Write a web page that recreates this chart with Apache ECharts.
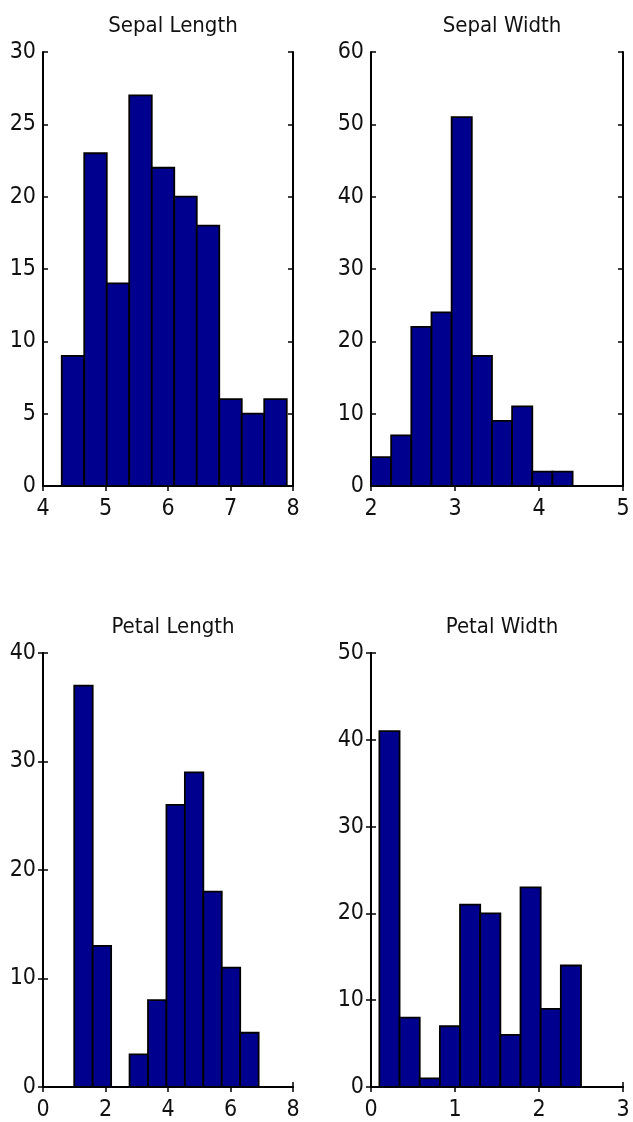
<!DOCTYPE html>
<html>
<head>
<meta charset="utf-8">
<script src="https://cdn.jsdelivr.net/npm/echarts@6/dist/echarts.min.js"></script>
<style>
  html, body { margin: 0; padding: 0; background: #fff; }
  #main { width: 633px; height: 1122px; }
</style>
</head>
<body>
<div id="main"></div>
<script>
    // histogram counts, 10 bins each (iris data)
    var titles = ['Sepal Length', 'Sepal Width', 'Petal Length', 'Petal Width'];
    var sepalLength = [9, 23, 14, 27, 22, 20, 18, 6, 5, 6];
    var sepalWidth = [4, 7, 22, 24, 51, 18, 9, 11, 2, 2];
    var petalLength = [37, 13, 0, 3, 8, 26, 29, 18, 11, 5];
    var petalWidth = [41, 8, 1, 7, 21, 20, 6, 23, 9, 14];
    // data range covered by the bins [min, max]
    var binRanges = [[4.3, 7.9], [2.0, 4.4], [1.0, 6.9], [0.1, 2.5]];
    // axis ranges [min, max, step]
    var xTicks = [[4, 8, 1], [2, 5, 1], [0, 8, 2], [0, 3, 1]];
    var yTicks = [[0, 30, 5], [0, 60, 10], [0, 40, 10], [0, 50, 10]];

    var counts = [sepalLength, sepalWidth, petalLength, petalWidth];
    var font = "'Liberation Sans Narrow', 'Arial Narrow', 'DejaVu Sans Condensed', sans-serif";

    var grids = [
        { left: 43, top: 52, width: 250, height: 434 },
        { left: 371, top: 52, width: 252, height: 434 },
        { left: 43, top: 653, width: 250, height: 435 },
        { left: 371, top: 653, width: 252, height: 435 }
    ];

    var xAxis = [], yAxis = [], series = [], title = [];
    for (var i = 0; i < 4; i++) {
        var g = grids[i];
        title.push({
            text: titles[i],
            left: g.left + g.width / 2,
            top: g.top - 42,
            textAlign: 'center',
            textStyle: { fontFamily: font, fontSize: 22, fontWeight: 'normal', color: '#111' }
        });
        ['bottom', 'top'].forEach(function (pos) {
            xAxis.push({
                type: 'value', gridIndex: i, position: pos,
                min: xTicks[i][0], max: xTicks[i][1], interval: xTicks[i][2],
                splitLine: { show: false },
                axisLine: { show: true, lineStyle: { color: '#000', width: 2 } },
                axisTick: { show: true, inside: true, length: 5, lineStyle: { color: '#000', width: 1.5 } },
                axisLabel: {
                    show: pos == 'bottom', margin: 12, color: '#111',
                    fontFamily: font, fontSize: 23
                }
            });
        });
        ['left', 'right'].forEach(function (pos) {
            yAxis.push({
                type: 'value', gridIndex: i, position: pos,
                min: yTicks[i][0], max: yTicks[i][1], interval: yTicks[i][2],
                splitLine: { show: false },
                axisLine: { show: true, lineStyle: { color: '#000', width: 2 } },
                axisTick: { show: true, inside: true, length: 5, lineStyle: { color: '#000', width: 1.5 } },
                axisLabel: {
                    show: pos == 'left', margin: 7, color: '#111',
                    fontFamily: font, fontSize: 23
                }
            });
        });
        // bins: [start, end, count]
        var lo = binRanges[i][0], hi = binRanges[i][1];
        var w = (hi - lo) / counts[i].length;
        var data = counts[i].map(function (c, k) {
            return [lo + k * w, lo + (k + 1) * w, c];
        });
        series.push({
            type: 'custom',
            xAxisIndex: i * 2,
            yAxisIndex: i * 2,
            data: data,
            encode: { x: [0, 1], y: 2 },
            renderItem: function (params, api) {
                var p0 = api.coord([api.value(0), 0]);
                var p1 = api.coord([api.value(1), api.value(2)]);
                return {
                    type: 'rect',
                    shape: { x: p0[0], y: p1[1], width: p1[0] - p0[0], height: p0[1] - p1[1] },
                    style: { fill: '#00008f', stroke: '#000', lineWidth: 1.8 }
                };
            }
        });
    }

    var option = {
        animation: false,
        backgroundColor: '#fff',
        title: title,
        grid: grids,
        xAxis: xAxis,
        yAxis: yAxis,
        series: series
    };
    var myChart = echarts.init(document.getElementById('main'));
    myChart.setOption(option);
</script>
</body>
</html>
